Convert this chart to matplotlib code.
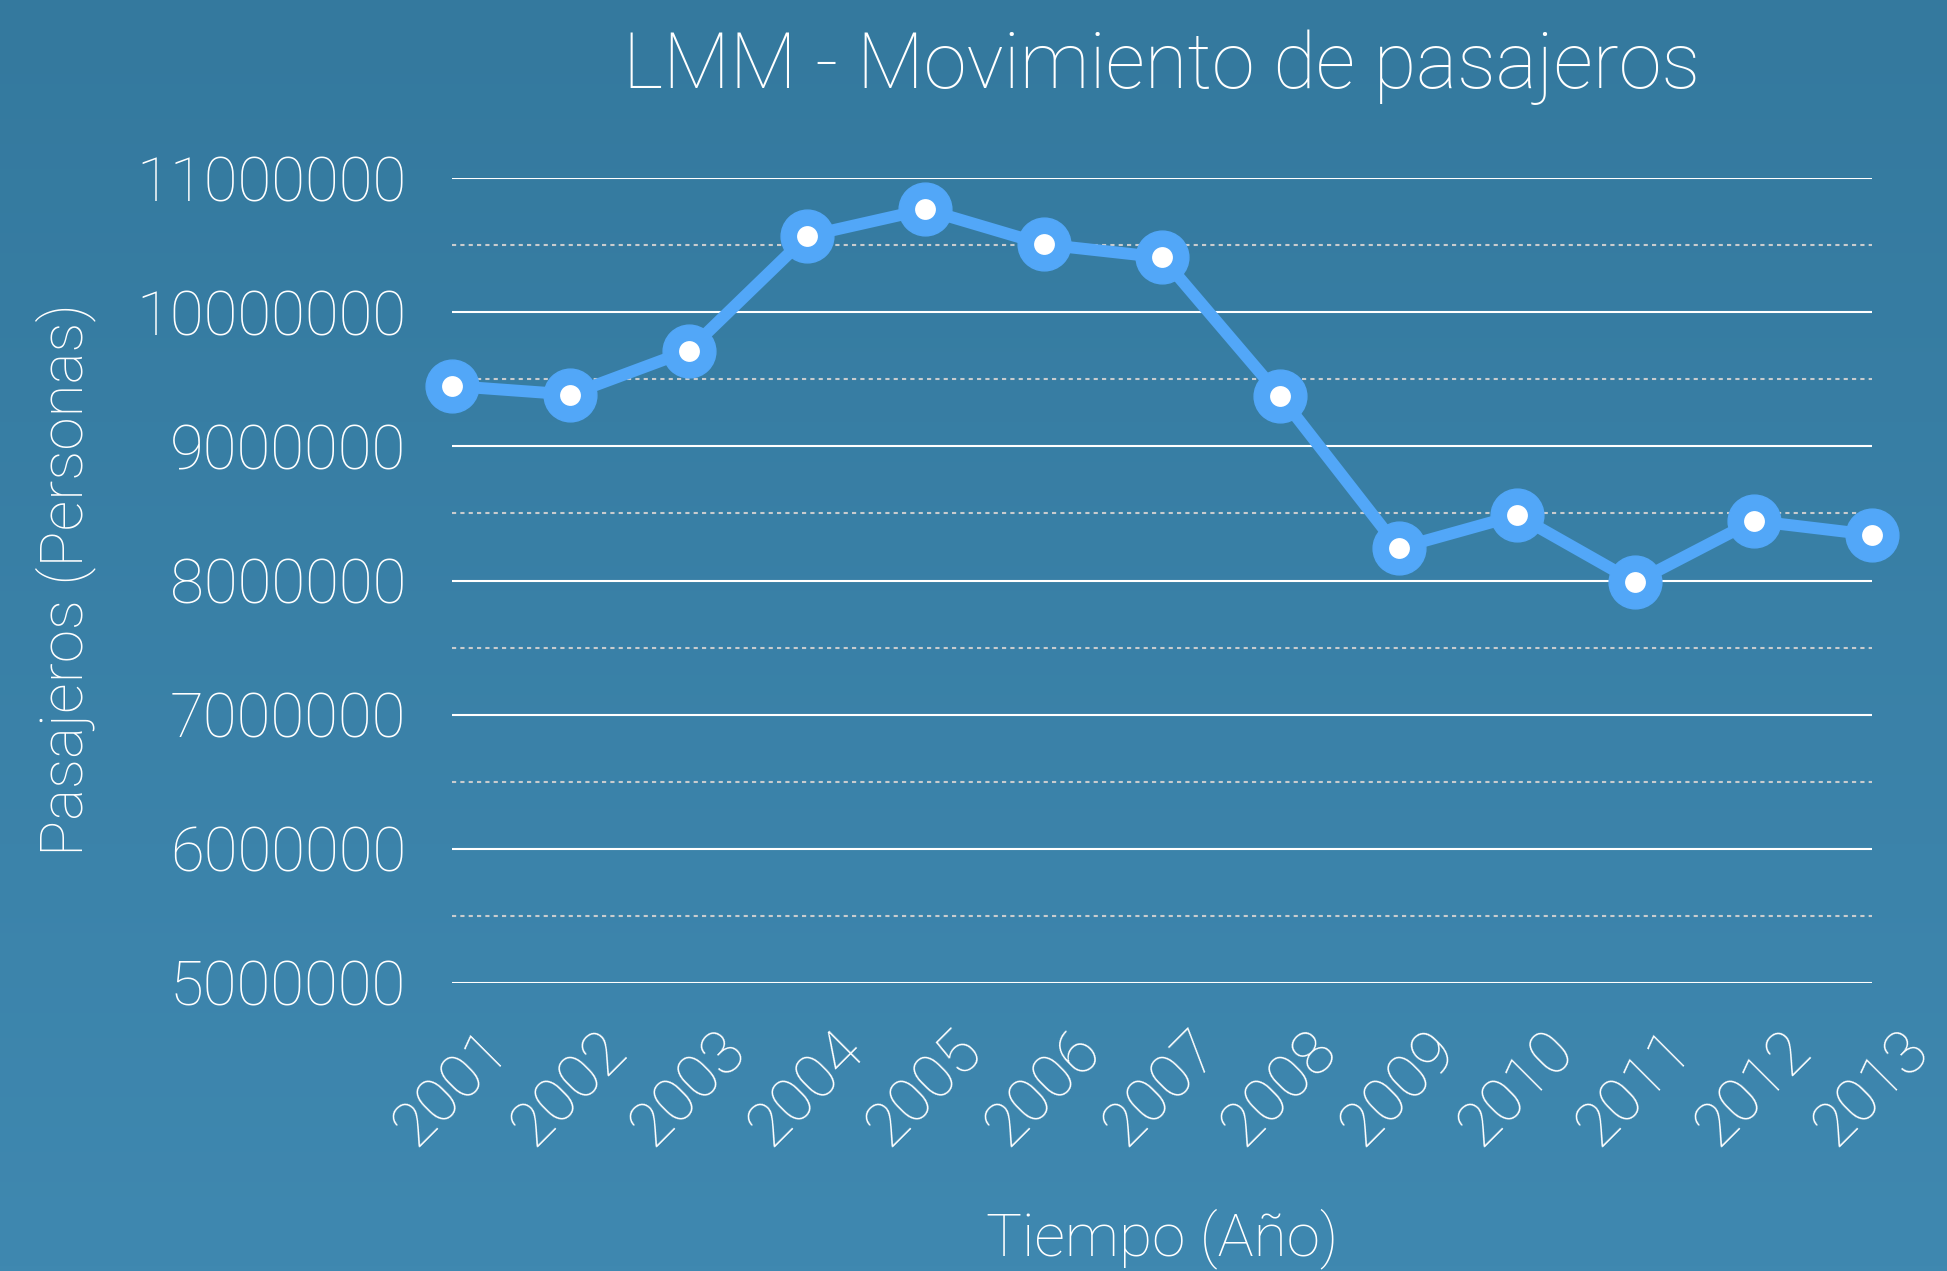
import matplotlib
matplotlib.use("Agg")
import matplotlib.pyplot as plt
import numpy as np
from matplotlib.ticker import FixedLocator

# ---- data ----
years = [2001, 2002, 2003, 2004, 2005, 2006, 2007, 2008, 2009, 2010, 2011, 2012, 2013]
passengers = [9450000, 9386000, 9714000, 10567000, 10766000, 10505000, 10408000,
              9373000, 8241000, 8487000, 7987000, 8445000, 8340000]
y_ticks = [5000000, 6000000, 7000000, 8000000, 9000000, 10000000, 11000000]
y_minor = [5500000, 6500000, 7500000, 8500000, 9500000, 10500000]
title = "LMM - Movimiento de pasajeros"
xlabel = "Tiempo (Año)"
ylabel = "Pasajeros (Personas)"

FAM = ["Roboto", "DejaVu Sans"]
plt.rcParams["font.family"] = FAM

W, H = 1947, 1271
fig = plt.figure(figsize=(W / 100, H / 100), dpi=100)

# gradient background
bg = fig.add_axes([0, 0, 1, 1], zorder=-10)
bg.axis("off")
top = np.array([52, 121, 158]) / 255
bot = np.array([63, 136, 176]) / 255
g = np.linspace(0, 1, 256)[:, None, None]
img = top * (1 - g) + bot * g
bg.imshow(img, aspect="auto", extent=[0, 1, 0, 1])
bg.set_xlim(0, 1)
bg.set_ylim(0, 1)

blue = "#52a7f8"
ax = fig.add_axes([452 / W, 1 - 983 / H, (1872 - 452) / W, (983 - 178) / H])
ax.set_facecolor("none")
ax.plot(years, passengers, color=blue, lw=8.6, marker="o", ms=38,
        mfc=blue, mec=blue, clip_on=False, zorder=3, solid_joinstyle="round")
ax.plot(years, passengers, ls="none", marker="o", ms=15, mfc="white",
        mew=0, clip_on=False, zorder=4)

ax.set_xlim(years[0], years[-1])
ax.set_ylim(y_ticks[0], y_ticks[-1])
ax.set_yticks(y_ticks)
ax.set_yticklabels([str(v) for v in y_ticks])
ax.yaxis.set_minor_locator(FixedLocator(y_minor))
ax.set_xticks(years)
ax.set_xticklabels([str(y) for y in years], rotation=45, ha="center")

ax.grid(which="major", axis="y", color="white", lw=1.5, zorder=1)
ax.grid(which="minor", axis="y", color="#c9ccce", lw=1.5, ls=(0, (2, 2)), zorder=1)
ax.grid(which="major", axis="x", visible=False)
for s in ax.spines.values():
    s.set_visible(False)
ax.tick_params(axis="y", which="both", length=0, pad=33, labelcolor="white", labelsize=44.5)
ax.tick_params(axis="x", which="both", length=0, pad=27, labelcolor="white", labelsize=44.5)
for lab in ax.get_xticklabels() + ax.get_yticklabels():
    lab.set_fontweight("light")

fig.text(1162 / W, 1 - 88 / H, title, ha="center", va="baseline",
         color="white", fontsize=56, fontweight="light")
fig.text(1162 / W, 1 - 1255 / H, xlabel, ha="center", va="baseline",
         color="white", fontsize=43.5, fontweight="light")
fig.text(66 / W, 1 - 580 / H, ylabel, ha="center", va="center", rotation=90,
         color="white", fontsize=43.5, fontweight="light")

fig.savefig("out.png", dpi=100)
